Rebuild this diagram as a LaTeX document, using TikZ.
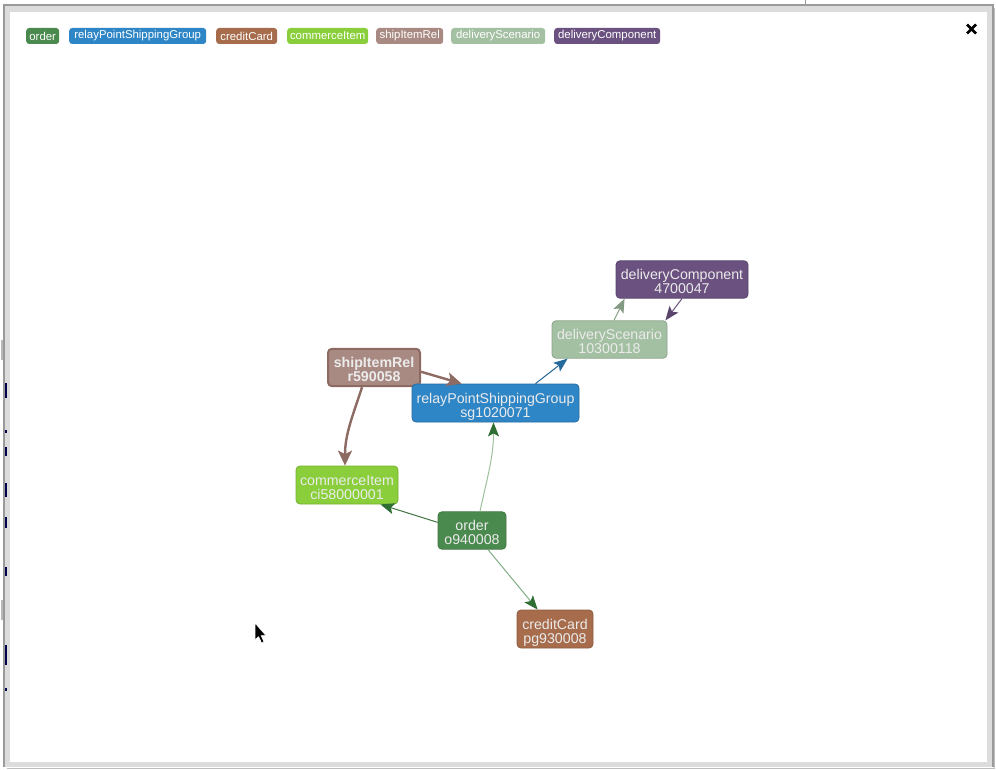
\documentclass[tikz,border=0pt]{standalone}
\usepackage{fontspec}
\setmainfont{Liberation Sans}
\usetikzlibrary{arrows.meta,calc}

\definecolor{cOrder}{HTML}{4B8A4F}
\definecolor{cRelay}{HTML}{2F86C6}
\definecolor{cCard}{HTML}{A66C4B}
\definecolor{cItem}{HTML}{8ACF3B}
\definecolor{cRel}{HTML}{A98A83}
\definecolor{cRelEdge}{HTML}{8D6A62}
\definecolor{cScen}{HTML}{A4C0A2}
\definecolor{cComp}{HTML}{6A5180}
\definecolor{cHead}{HTML}{2F6F34}
\definecolor{frameGrey}{HTML}{DCDCDC}
\definecolor{frameLine}{HTML}{9A9A9A}

% two centred lines; the tall strut on the first line lowers the pair a little
\newcommand{\twoline}[2]{\begin{tabular}{@{}c@{}}\rule{0pt}{19pt}#1\\#2\end{tabular}}

\tikzset{
  x=1pt, y=-1pt,
  legend/.style={rounded corners=3pt, text=white, font=\fontsize{11.4}{12}\selectfont,
    inner xsep=2pt, inner ysep=0pt, minimum height=16pt, anchor=west},
  ent/.style={rounded corners=4pt, text=white!92!black,
    font=\fontsize{14.2}{14.2}\selectfont, inner sep=0pt, line width=0.8pt},
  link/.style={line width=1pt},
  heavy/.style={line width=2.4pt, cRelEdge,
    -{Stealth[length=15pt,width=14pt,inset=3.5pt]}},
  thinarrow/.style={-{Stealth[length=14pt,width=11pt,inset=3pt,#1]}},
}

\begin{document}
\begin{tikzpicture}
\useasboundingbox (0,0) rectangle (996,770);
\fill[white] (0,0) rectangle (996,770);

% window frame
\draw[frameLine] (805,0) -- (805,5);
\fill[frameGrey] (4,5) rectangle (993,767);
\draw[frameLine, line width=1.2pt] (4,767) -- (4,5) -- (993,5) -- (993,767);
\draw[black!25, line width=1.5pt] (994.5,8) -- (994.5,768.5) -- (7,768.5);
\fill[white] (10,12) rectangle (987,762);

% bits of the page behind the frame
\fill[frameLine!70] (1,340) rectangle (3,360);
\fill[frameLine!70] (1,600) rectangle (3,620);
\foreach \ya/\yb in {383/398, 430/433, 447/456, 483/497, 517/528, 567/576, 645/665, 688/691}
  \fill[blue!30!black] (5,\ya) rectangle (7,\yb);

% close button
\draw[black, line width=2.8pt] (967,24.5) -- (976,33.5) (976,24.5) -- (967,33.5);

% legend
\node[legend, fill=cOrder, minimum width=33pt] (lgOrder) at (26,36) {order};
\node[legend, fill=cRelay, minimum width=137pt] (lgRelay) at (69,36) {relayPointShippingGroup};
\node[legend, fill=cCard, minimum width=61pt] (lgCard) at (216,36) {creditCard};
\node[legend, fill=cItem, minimum width=81pt] (lgItem) at (287,36) {commerceItem};
\node[legend, fill=cRel, minimum width=67pt] (lgRel) at (376,36) {shipItemRel};
\node[legend, fill=cScen, minimum width=94pt] (lgScen) at (451,36) {deliveryScenario};
\node[legend, fill=cComp, minimum width=106pt] (lgComp) at (554,36) {deliveryComponent};

% entities
\node[ent, fill=cComp, draw=cComp!85!black, minimum width=132pt, minimum height=37pt]
  (comp) at (682,279.5) {\twoline{deliveryComponent}{4700047}};
\node[ent, fill=cScen, draw=cScen!85!black, minimum width=115pt, minimum height=37pt]
  (scen) at (609.5,339.5) {\twoline{deliveryScenario}{10300118}};
\node[ent, fill=cRel, draw=cRelEdge, line width=2pt, minimum width=92pt, minimum height=36pt,
  font=\fontsize{14.2}{14.2}\selectfont\bfseries]
  (rel) at (374,367.5) {\twoline{shipItemRel}{r590058}};
\node[ent, fill=cRelay, draw=cRelay!80!black, minimum width=167pt, minimum height=38pt]
  (relay) at (495.5,403) {\twoline{relayPointShippingGroup}{sg1020071}};
\node[ent, fill=cItem, draw=cItem!85!black, minimum width=102pt, minimum height=38pt]
  (item) at (347,485) {\twoline{commerceItem}{ci58000001}};
\node[ent, fill=cOrder, draw=cOrder!85!black, minimum width=68pt, minimum height=37pt]
  (order) at (472,530.5) {\twoline{order}{o940008}};
\node[ent, fill=cCard, draw=cCard!85!black, minimum width=76pt, minimum height=38pt]
  (card) at (555,629) {\twoline{creditCard}{pg930008}};

% connectors
\draw[heavy] ($(rel.north east)+(0,24)$) -- ($(relay.north west)+(50,0)$);
\draw[heavy] ($(rel.south)+(-12,0)$) to[out=-108, in=90] ($(item.north)+(-2,0)$);

\draw[link, color=cRelay!75!black, thinarrow={color=cRelay!80!black}]
  ($(relay.north)+(40,0)$) -- ($(scen.south west)+(16,0)$);
\draw[link, color=cScen!85!black, thinarrow={color=cScen!80!black}]
  ($(scen.north)+(4.5,0)$) -- ($(comp.south west)+(9,0)$);
\draw[link, color=cComp, thinarrow={color=cComp!85!black}]
  (comp.south) -- ($(scen.north east)+(-2,0)$);

\draw[link, color=cOrder!55!white, thinarrow={color=cHead}]
  ($(order.north)+(8,0)$) to[out=78, in=-90] ($(relay.south)+(-2,0)$);
\draw[link, color=cOrder!85!black, thinarrow={color=cHead}]
  ($(order.north west)+(0,11)$) -- ($(item.south east)+(-18,0)$);
\draw[link, color=cOrder!70!white, thinarrow={color=cHead}]
  ($(order.south)+(16,0)$) -- ($(card.north west)+(21,0)$);

% mouse pointer
\filldraw[fill=black, draw=white, line width=0.6pt, line join=round]
  (255,623) -- (255,640) -- (258.6,636.6) -- (261.6,643) -- (264,642) -- (261.2,635.6) -- (266,635.6) -- cycle;
\end{tikzpicture}
\end{document}
